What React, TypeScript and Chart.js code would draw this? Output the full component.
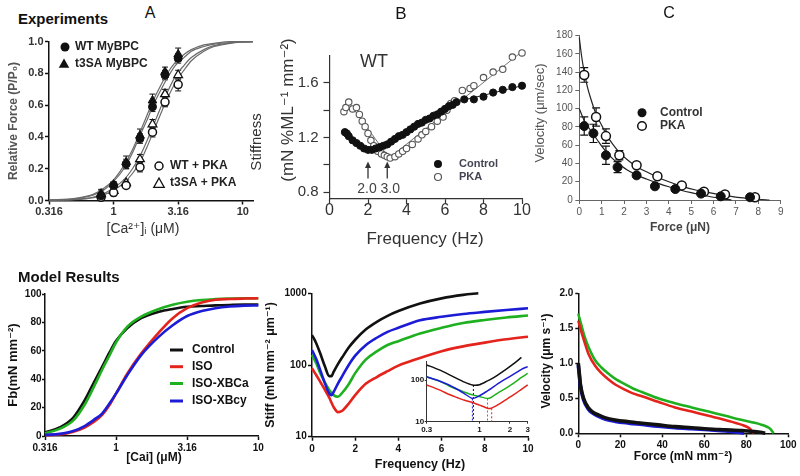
import React, { useEffect, useRef } from "react";
import { Chart, registerables } from "chart.js";

Chart.register(...registerables);
const FONT = "'Liberation Sans', Arial, 'DejaVu Sans', sans-serif";
Chart.defaults.font.family = FONT;

// ---------------- Panel A (experiments, force-pCa) ----------------
const aConc = [0.8, 1.0, 1.25, 1.6, 2.0, 2.5, 3.16];
const aWT = [0.03, 0.095, 0.23, 0.39, 0.59, 0.79, 0.895];
const aWTErr = [0.02, 0.02, 0.03, 0.03, 0.03, 0.03, 0.03];
const aT3SA = [0.04, 0.1, 0.24, 0.41, 0.63, 0.81, 0.92];
const aT3SAErr = [0.03, 0.02, 0.04, 0.04, 0.04, 0.03, 0.04];
const aWTPka = [0.02, 0.05, 0.095, 0.21, 0.43, 0.62, 0.73];
const aWTPkaErr = [0.02, 0.02, 0.02, 0.03, 0.03, 0.03, 0.04];
const aT3SAPka = [0.04, 0.06, 0.11, 0.26, 0.48, 0.67, 0.79];
const aT3SAPkaErr = [0.02, 0.02, 0.02, 0.03, 0.03, 0.03, 0.03];
const aFitConc = [0.316, 0.5, 0.7, 0.85, 1.0, 1.2, 1.4, 1.6, 1.8, 2.0, 2.3, 2.6, 3.0, 3.5, 4, 5, 6, 8, 10, 12];
const aFitWT = [0.002, 0.011, 0.035, 0.07, 0.12, 0.2, 0.3, 0.41, 0.5, 0.59, 0.69, 0.77, 0.85, 0.9, 0.94, 0.97, 0.985, 0.995, 1.0, 1.0];
const aFitT3SA = [0.003, 0.013, 0.04, 0.08, 0.13, 0.22, 0.32, 0.43, 0.53, 0.62, 0.72, 0.8, 0.87, 0.92, 0.95, 0.98, 0.99, 1.0, 1.0, 1.0];
const aFitWTPka = [0.001, 0.005, 0.018, 0.037, 0.065, 0.11, 0.17, 0.24, 0.33, 0.42, 0.54, 0.64, 0.74, 0.82, 0.88, 0.94, 0.97, 0.99, 0.997, 1.0];
const aFitT3SAPka = [0.002, 0.007, 0.022, 0.045, 0.08, 0.13, 0.2, 0.28, 0.37, 0.46, 0.58, 0.68, 0.78, 0.85, 0.9, 0.95, 0.975, 0.993, 0.998, 1.0];
const aXTicks = [0.316, 1, 3.16, 10];
const aXLabels = ["0.316", "1", "3.16", "10"];
const aYTicks = [0, 0.2, 0.4, 0.6, 0.8, 1.0];
const aYLabels = ["0.0", "0.2", "0.4", "0.6", "0.8", "1.0"];

// ---------------- Panel B (experiments, stiffness) ----------------
const bFreqCtrl = [0.8, 0.9, 1.0, 1.2, 1.4, 1.6, 1.8, 2.0, 2.2, 2.4, 2.6, 2.8, 3.0, 3.2, 3.4, 3.6, 3.8, 4.0, 4.2, 4.4, 4.6, 4.8, 5.0, 5.2, 5.4, 5.6, 5.8, 6.0, 6.2, 6.4, 6.6, 7.0, 7.5, 8.0, 8.5, 9.0, 9.5, 10.0];
const bCtrl = [1.24, 1.23, 1.21, 1.18, 1.16, 1.14, 1.12, 1.11, 1.11, 1.12, 1.13, 1.14, 1.15, 1.17, 1.19, 1.21, 1.22, 1.24, 1.26, 1.28, 1.30, 1.31, 1.33, 1.34, 1.36, 1.37, 1.39, 1.41, 1.43, 1.44, 1.46, 1.48, 1.48, 1.50, 1.53, 1.55, 1.57, 1.58];
const bFreqPka = [0.75, 0.85, 1.0, 1.2, 1.4, 1.55, 1.7, 1.85, 2.0, 2.15, 2.3, 2.5, 2.7, 2.85, 3.0, 3.15, 3.4, 3.6, 3.8, 4.0, 4.3, 4.6, 4.8, 5.0, 5.3, 5.6, 5.9, 6.1, 6.3, 6.5, 6.9, 7.3, 7.5, 8.0, 8.5, 9.0, 9.5, 10.0];
const bPka = [1.39, 1.42, 1.46, 1.41, 1.42, 1.37, 1.32, 1.28, 1.23, 1.18, 1.14, 1.10, 1.08, 1.07, 1.06, 1.05, 1.06, 1.08, 1.10, 1.12, 1.15, 1.19, 1.22, 1.245, 1.28, 1.32, 1.35, 1.40, 1.45, 1.47, 1.545, 1.56, 1.58, 1.64, 1.68, 1.70, 1.79, 1.82];
const bFitCtrlFreq = [0.8, 1.4, 2.1, 3.0, 4.0, 5.0, 6.0, 6.6, 8.0, 10.0];
const bFitCtrl = [1.24, 1.16, 1.105, 1.15, 1.24, 1.33, 1.41, 1.46, 1.51, 1.58];
const bFitPkaFreq = [1.0, 3.1, 10.0];
const bFitPka = [1.46, 1.05, 1.83];
const bArrowFreq = [2.0, 3.0];
const bArrowLabels = ["2.0", "3.0"];
const bXTicks = [0, 2, 4, 6, 8, 10];
const bXLabels = ["0", "2", "4", "6", "8", "10"];
const bYTicks = [0.8, 1.0, 1.2, 1.4, 1.6];
const bYLabels = ["0.8", "", "1.2", "", "1.6"];

// ---------------- Panel C (experiments, force-velocity) ----------------
const cForceCtrl = [0.22, 0.63, 1.19, 1.71, 2.56, 3.38, 4.29, 5.44, 6.32, 7.63];
const cVelCtrl = [81, 73, 49, 36, 27, 15, 12, 7, 4, 3];
const cErrCtrl = [10, 10, 10, 6, 2, 2, 2, 1, 1, 1];
const cForcePka = [0.22, 0.75, 1.19, 1.79, 2.56, 3.49, 4.58, 5.57, 6.51, 7.85];
const cVelPka = [137, 91, 70, 49, 38, 26, 16, 9, 6, 3];
const cErrPka = [8, 10, 8, 5, 2, 2, 2, 1, 1, 1];
const cFitForcePka = [0, 0.1, 0.2, 0.35, 0.5, 0.75, 1.0, 1.25, 1.5, 1.8, 2.2, 2.6, 3.0, 3.5, 4.0, 4.6, 5.2, 5.8, 6.5, 7.2, 8.0, 8.5];
const cFitPka = [178, 158, 143, 125, 112, 94, 82, 70, 61, 52, 43, 36, 31, 25, 20, 15, 11, 8, 5, 2.5, 0.8, 0];
const cFitForceCtrl = [0, 0.1, 0.2, 0.4, 0.6, 0.8, 1.0, 1.2, 1.5, 1.8, 2.2, 2.6, 3.0, 3.5, 4.0, 4.5, 5.0, 5.5, 6.0, 6.5, 6.8];
const cFitCtrl = [100, 94, 88, 80, 73, 66, 59, 53, 45, 39, 32, 27, 23, 18.5, 14.5, 11, 8, 5.5, 3, 1, 0];
const cXTicks = [0, 1, 2, 3, 4, 5, 6, 7, 8, 9];
const cXLabels = ["0", "1", "2", "3", "4", "5", "6", "7", "8", "9"];
const cYTicks = [0, 20, 40, 60, 80, 100, 120, 140, 160, 180];
const cYLabels = ["0", "20", "40", "60", "80", "100", "120", "140", "160", "180"];

// ---------------- Panel D (model, force-Ca) ----------------
const dConc = [0.316, 0.4, 0.5, 0.6, 0.7, 0.8, 0.9, 1.0, 1.2, 1.5, 2.0, 2.5, 3.16, 4, 5, 6.3, 8, 10];
const dControl = [2.5, 6, 13, 25, 38, 49, 59, 67, 76, 83, 87.5, 89.5, 91, 91.5, 92, 92.3, 92.5, 92.5];
const dISO = [0.5, 1, 3, 6, 10, 15, 22, 30, 44, 58, 73, 83, 90, 94, 96, 96.5, 96.8, 97];
const dXBCa = [2, 5, 11, 22, 35, 47, 57, 66, 77, 84, 89.5, 92.5, 94.6, 95.8, 96.4, 96.8, 97, 97];
const dXBcy = [0.8, 1.5, 3.5, 7, 11.5, 16, 23, 30, 43, 57, 70, 78, 84.5, 88, 90, 91.2, 91.8, 92];
const dXTicks = [0.316, 1, 3.16, 10];
const dXLabels = ["0.316", "1", "3.16", "10"];
const dYTicks = [0, 20, 40, 60, 80, 100];
const dYLabels = ["0", "20", "40", "60", "80", "100"];
const modelNames = ["Control", "ISO", "ISO-XBCa", "ISO-XBcy"];
const modelColors = ["#111111", "#e3231c", "#1fb01f", "#1c1cd6"];

// ---------------- Panel E (model, stiffness) ----------------
const eFreqCtrl = [0, 0.2, 0.4, 0.6, 0.8, 0.9, 1.0, 1.2, 1.4, 1.7, 2.0, 2.5, 3.0, 3.5, 4.0, 5.0, 6.0, 7.0, 7.7];
const eCtrl = [262, 200, 140, 95, 70, 70, 80, 103, 128, 175, 225, 315, 400, 485, 565, 720, 850, 950, 1000];
const eFreq = [0, 0.2, 0.4, 0.6, 0.8, 0.9, 1.0, 1.2, 1.4, 1.7, 2.0, 2.5, 3.0, 3.5, 4.0, 5.0, 6.0, 7.0, 8.0, 9.0, 10.0];
const eISO = [90, 72, 57, 45, 35, 30, 26, 22, 23, 29, 38, 55, 68, 82, 98, 125, 156, 182, 205, 228, 248];
const eXBCa = [138, 105, 75, 57, 45, 41, 38, 36, 41, 54, 77, 120, 155, 190, 215, 275, 330, 385, 425, 460, 490];
const eXBcy = [162, 120, 82, 55, 40, 38, 42, 55, 70, 100, 135, 190, 240, 290, 330, 420, 470, 515, 550, 585, 618];
const eXTicks = [0, 2, 4, 6, 8, 10];
const eXLabels = ["0", "2", "4", "6", "8", "10"];
const eYTicks = [10, 100, 1000];
const eYLabels = ["10", "100", "1000"];

// inset (log-log)
const iFreqCtrl = [0.3, 0.4, 0.5, 0.6, 0.7, 0.85, 1.0, 1.2, 1.3, 1.5, 1.8, 2.2, 2.6];
const iCtrl = [230, 175, 135, 108, 90, 76, 77, 95, 105, 130, 175, 250, 350];
const iFreq = [0.3, 0.4, 0.5, 0.6, 0.7, 0.85, 1.0, 1.2, 1.3, 1.5, 1.8, 2.2, 2.6, 3.0];
const iXBcy = [120, 95, 76, 60, 48, 36, 42, 55, 62, 80, 105, 140, 180, 210];
const iXBCa = [118, 95, 72, 60, 52, 44, 40, 36, 38, 48, 62, 85, 115, 145];
const iISO = [76, 58, 45, 38, 33, 29, 25, 21, 21, 25, 33, 45, 60, 76];
const iMinFreq = [0.87, 0.85, 1.2, 1.32];
const iMinVal = [76, 36, 36, 21];
const iMinColor = ["#111111", "#1c1cd6", "#1fb01f", "#e3231c"];
const iXTicks = [0.3, 1, 2, 3];
const iXLabels = ["0.3", "1", "2", "3"];
const iYTicks = [10, 100];
const iYLabels = ["10", "100"];

// ---------------- Panel F (model, force-velocity) ----------------
const fForceGreen = [0, 0.5, 1.75, 3, 4.9, 8.1, 11, 14.4, 18, 22.4, 26, 30.3, 38, 46, 54, 62, 70, 78, 84, 87.5, 90, 91.5, 93];
const fGreen = [1.71, 1.65, 1.515, 1.38, 1.23, 1.04, 0.94, 0.85, 0.77, 0.70, 0.64, 0.59, 0.50, 0.43, 0.37, 0.31, 0.25, 0.19, 0.15, 0.12, 0.09, 0.06, 0.0];
const fForceRed = [0, 0.5, 1.75, 3, 4.9, 8.1, 11, 14.4, 18, 22.4, 26, 30.3, 38, 46, 54, 62, 70, 78, 81, 82.5, 83.5];
const fRed = [1.61, 1.55, 1.42, 1.30, 1.13, 0.96, 0.86, 0.77, 0.69, 0.62, 0.57, 0.53, 0.45, 0.37, 0.31, 0.25, 0.19, 0.12, 0.08, 0.04, 0];
const fForceBlack = [0, 0.5, 1, 2.5, 4.9, 7, 9.7, 13, 17.6, 24, 30.3, 38, 46, 54, 62, 70, 78, 84, 87.5, 89];
const fBlack = [1.0, 0.85, 0.70, 0.50, 0.36, 0.30, 0.26, 0.22, 0.19, 0.165, 0.144, 0.12, 0.095, 0.08, 0.062, 0.05, 0.038, 0.025, 0.01, 0];
const fForceBlue = [0, 0.5, 1, 2.5, 4.9, 7, 9.7, 13, 17.6, 24, 30.3, 38, 46, 54, 62, 70, 75, 79];
const fBlue = [0.97, 0.82, 0.68, 0.48, 0.34, 0.285, 0.24, 0.20, 0.17, 0.145, 0.125, 0.10, 0.08, 0.065, 0.05, 0.035, 0.02, 0];
const fXTicks = [0, 20, 40, 60, 80, 100];
const fXLabels = ["0", "20", "40", "60", "80", "100"];
const fYTicks = [0, 0.5, 1.0, 1.5, 2.0];
const fYLabels = ["0.0", "0.5", "1.0", "1.5", "2.0"];

// ---------------- helpers ----------------
type Geo = { x: number; y: number; w: number; h: number; l: number; t: number; r: number; b: number };
type Mark = { k: "dot" | "ring" | "tri" | "triOpen" | "seg"; x: number; y: number; r: number; c: string; w?: number };
type Txt = { s: string; x: number; y: number; f: string; c: string; a?: CanvasTextAlign; rot?: number };

const pts = (xs: number[], ys: number[]) => xs.map((x, i) => ({ x, y: ys[i] }));

function mkScale(o: {
  type: string; min: number; max: number; vals: number[]; labels: string[];
  dir: "x" | "y"; size: number; tickLen: number; pad: number;
  fsize: number; bold?: boolean; color: string; line: string; lineW: number;
}) {
  return {
    type: o.type,
    min: o.min,
    max: o.max,
    bounds: "data",
    position: o.dir === "x" ? "bottom" : "left",
    afterBuildTicks: (s: any) => {
      s.ticks = o.vals.map((v) => ({ value: v }));
    },
    afterFit: (s: any) => {
      if (o.dir === "x") s.height = o.size;
      else s.width = o.size;
    },
    ticks: {
      autoSkip: false,
      maxRotation: 0,
      minRotation: 0,
      padding: o.pad,
      color: o.color,
      font: { size: o.fsize, weight: o.bold ? "bold" : "normal", family: FONT },
      callback: (_v: any, i: number) => (o.labels[i] !== undefined ? o.labels[i] : ""),
    },
    grid: {
      display: true,
      drawOnChartArea: false,
      drawTicks: true,
      tickLength: o.tickLen,
      tickColor: o.line,
      tickWidth: o.lineW,
    },
    border: { display: true, color: o.line, width: o.lineW },
    title: { display: false },
  };
}

function baseOptions(g: Geo, scales: any) {
  return {
    responsive: false,
    animation: false,
    devicePixelRatio: 1,
    events: [],
    layout: { padding: { left: 0, top: g.t - g.y, right: g.x + g.w - g.r, bottom: 0 } },
    plugins: { legend: { display: false }, tooltip: { enabled: false }, title: { display: false } },
    scales,
  };
}

function curve(xs: number[], ys: number[], color: string, width: number, extra: any = {}) {
  return {
    data: pts(xs, ys),
    showLine: true,
    pointRadius: 0,
    borderColor: color,
    backgroundColor: color,
    borderWidth: width,
    cubicInterpolationMode: "monotone",
    clip: false,
    ...extra,
  };
}

function markers(xs: number[], ys: number[], style: string, r: number, fill: string, stroke: string, bw: number) {
  return {
    data: pts(xs, ys),
    showLine: false,
    pointStyle: style,
    pointRadius: r,
    pointBackgroundColor: fill,
    pointBorderColor: stroke,
    pointBorderWidth: bw,
    clip: false,
  };
}

function decor(ox: number, oy: number, marks: Mark[], texts: Txt[]) {
  return {
    id: "decor",
    afterDraw(chart: any) {
      const ctx: CanvasRenderingContext2D = chart.ctx;
      ctx.save();
      for (const m of marks) {
        const x = m.x - ox;
        const y = m.y - oy;
        ctx.beginPath();
        ctx.lineWidth = m.w ?? 1.5;
        ctx.strokeStyle = m.c;
        ctx.fillStyle = m.c;
        if (m.k === "dot" || m.k === "ring") {
          ctx.arc(x, y, m.r, 0, Math.PI * 2);
          if (m.k === "dot") ctx.fill();
          else {
            ctx.fillStyle = "#fff";
            ctx.fill();
            ctx.stroke();
          }
        } else if (m.k === "tri" || m.k === "triOpen") {
          ctx.moveTo(x, y - m.r);
          ctx.lineTo(x + m.r * 0.95, y + m.r * 0.7);
          ctx.lineTo(x - m.r * 0.95, y + m.r * 0.7);
          ctx.closePath();
          if (m.k === "tri") ctx.fill();
          else {
            ctx.fillStyle = "#fff";
            ctx.fill();
            ctx.stroke();
          }
        } else {
          ctx.lineCap = "butt";
          ctx.moveTo(x - m.r, y);
          ctx.lineTo(x + m.r, y);
          ctx.stroke();
        }
      }
      for (const t of texts) {
        ctx.save();
        ctx.translate(t.x - ox, t.y - oy);
        if (t.rot) ctx.rotate((t.rot * Math.PI) / 180);
        ctx.font = t.f;
        ctx.fillStyle = t.c;
        ctx.textAlign = t.a ?? "center";
        ctx.textBaseline = "middle";
        ctx.fillText(t.s, 0, 0);
        ctx.restore();
      }
      ctx.restore();
    },
  };
}

function errorBars(sets: { ds: number; err: number[]; color: string; cap: number; width: number }[]) {
  return {
    id: "errbars",
    beforeDatasetsDraw(chart: any) {
      const ctx: CanvasRenderingContext2D = chart.ctx;
      const ys = chart.scales.y;
      ctx.save();
      for (const s of sets) {
        const meta = chart.getDatasetMeta(s.ds);
        const data = chart.data.datasets[s.ds].data as any[];
        ctx.strokeStyle = s.color;
        ctx.lineWidth = s.width;
        meta.data.forEach((el: any, i: number) => {
          const v = data[i].y;
          const e = s.err[i];
          const top = ys.getPixelForValue(v + e);
          const bot = ys.getPixelForValue(v - e);
          ctx.beginPath();
          ctx.moveTo(el.x, top);
          ctx.lineTo(el.x, bot);
          ctx.moveTo(el.x - s.cap / 2, top);
          ctx.lineTo(el.x + s.cap / 2, top);
          ctx.moveTo(el.x - s.cap / 2, bot);
          ctx.lineTo(el.x + s.cap / 2, bot);
          ctx.stroke();
        });
      }
      ctx.restore();
    },
  };
}

function arrows(xs: number[], labels: string[], tail: number, head: number, labelY: number, labelDx: number[]) {
  return {
    id: "arrows",
    afterDatasetsDraw(chart: any) {
      const ctx: CanvasRenderingContext2D = chart.ctx;
      const sx = chart.scales.x;
      const sy = chart.scales.y;
      ctx.save();
      xs.forEach((v, i) => {
        const px = sx.getPixelForValue(v);
        const y0 = sy.getPixelForValue(tail);
        const y1 = sy.getPixelForValue(head);
        ctx.strokeStyle = "#333";
        ctx.fillStyle = "#333";
        ctx.lineWidth = 1.3;
        ctx.beginPath();
        ctx.moveTo(px, y0);
        ctx.lineTo(px, y1 + 4);
        ctx.stroke();
        ctx.beginPath();
        ctx.moveTo(px, y1);
        ctx.lineTo(px - 3, y1 + 6.5);
        ctx.lineTo(px + 3, y1 + 6.5);
        ctx.closePath();
        ctx.fill();
        ctx.font = `14px ${FONT}`;
        ctx.fillStyle = "#444";
        ctx.textAlign = "center";
        ctx.textBaseline = "middle";
        ctx.fillText(labels[i], px + labelDx[i], sy.getPixelForValue(labelY));
      });
      ctx.restore();
    },
  };
}

// ---------------- chart configs ----------------
const gA: Geo = { x: 0, y: 30, w: 270, h: 215, l: 49, t: 41.7, r: 253, b: 200.5 };
function configA() {
  const g = gA;
  return {
    type: "scatter",
    data: {
      datasets: [
        markers(aConc, aWT, "circle", 4, "#111", "#111", 1),
        markers(aConc, aT3SA, "triangle", 5, "#111", "#111", 1),
        markers(aConc, aWTPka, "circle", 4, "#fff", "#111", 1.5),
        markers(aConc, aT3SAPka, "triangle", 5, "#fff", "#111", 1.3),
        curve(aFitConc, aFitWT, "#6a6a6a", 1.2),
        curve(aFitConc, aFitT3SA, "#6a6a6a", 1.2),
        curve(aFitConc, aFitWTPka, "#6a6a6a", 1.2),
        curve(aFitConc, aFitT3SAPka, "#6a6a6a", 1.2),
      ],
    },
    options: baseOptions(g, {
      x: mkScale({ type: "logarithmic", min: 0.316, max: 12, vals: aXTicks, labels: aXLabels, dir: "x", size: g.y + g.h - g.b, tickLen: 4, pad: 1, fsize: 11, bold: true, color: "#333", line: "#111", lineW: 1.5 }),
      y: mkScale({ type: "linear", min: 0, max: 1, vals: aYTicks, labels: aYLabels, dir: "y", size: g.l - g.x, tickLen: 4, pad: 1.5, fsize: 11, bold: true, color: "#333", line: "#111", lineW: 1.5 }),
    }),
    plugins: [
      errorBars([
        { ds: 0, err: aWTErr, color: "#111", cap: 6, width: 1 },
        { ds: 1, err: aT3SAErr, color: "#111", cap: 6, width: 1 },
        { ds: 2, err: aWTPkaErr, color: "#111", cap: 6, width: 1 },
        { ds: 3, err: aT3SAPkaErr, color: "#111", cap: 6, width: 1 },
      ]),
      decor(g.x, g.y,
        [
          { k: "dot", x: 65, y: 47, r: 4.5, c: "#111" },
          { k: "tri", x: 64, y: 64, r: 5.5, c: "#111" },
          { k: "ring", x: 159, y: 166, r: 4, c: "#111", w: 1.5 },
          { k: "triOpen", x: 159, y: 183.5, r: 5.5, c: "#111", w: 1.3 },
        ],
        [
          { s: "WT MyBPC", x: 75, y: 47, f: `bold 12px ${FONT}`, c: "#222", a: "left" },
          { s: "t3SA MyBPC", x: 75, y: 63.5, f: `bold 12px ${FONT}`, c: "#222", a: "left" },
          { s: "WT + PKA", x: 170, y: 166, f: `bold 12px ${FONT}`, c: "#222", a: "left" },
          { s: "t3SA + PKA", x: 170, y: 183, f: `bold 12px ${FONT}`, c: "#222", a: "left" },
          { s: "Relative Force (P/P\u2080)", x: 13.5, y: 121, f: `bold 12px ${FONT}`, c: "#555", rot: -90 },
          { s: "[Ca\u00B2\u207A]\u1D62 (\u03BCM)", x: 143, y: 229, f: `14px ${FONT}`, c: "#333" },
        ]),
    ],
  };
}

const gB: Geo = { x: 240, y: 20, w: 305, h: 232, l: 329.5, t: 55.7, r: 522, b: 199 };
function configB() {
  const g = gB;
  return {
    type: "scatter",
    data: {
      datasets: [
        markers(bFreqCtrl, bCtrl, "circle", 3.6, "#111", "#111", 1),
        markers(bFreqPka, bPka, "circle", 3.2, "#fff", "#555", 1.1),
        curve(bFitCtrlFreq, bFitCtrl, "#222", 1, { cubicInterpolationMode: "default", tension: 0.35 }),
        curve(bFitPkaFreq, bFitPka, "#777", 1, { cubicInterpolationMode: "default", tension: 0 }),
      ],
    },
    options: baseOptions(g, {
      x: mkScale({ type: "linear", min: 0, max: 10, vals: bXTicks, labels: bXLabels, dir: "x", size: g.y + g.h - g.b, tickLen: 5, pad: -3, fsize: 16, color: "#333", line: "#333", lineW: 1.2 }),
      y: mkScale({ type: "linear", min: 0.75, max: 1.8, vals: bYTicks, labels: bYLabels, dir: "y", size: g.l - g.x, tickLen: 6, pad: 5, fsize: 15, color: "#333", line: "#333", lineW: 1.2 }),
    }),
    plugins: [
      arrows(bArrowFreq, bArrowLabels, 0.9, 1.025, 0.82, [-1, 3]),
      decor(g.x, g.y,
        [
          { k: "dot", x: 438, y: 164, r: 4, c: "#111" },
          { k: "ring", x: 438, y: 177, r: 3.5, c: "#555", w: 1.2 },
        ],
        [
          { s: "WT", x: 374, y: 62, f: `18px ${FONT}`, c: "#333" },
          { s: "Control", x: 459, y: 164, f: `bold 11px ${FONT}`, c: "#445", a: "left" },
          { s: "PKA", x: 459, y: 177, f: `bold 11px ${FONT}`, c: "#445", a: "left" },
          { s: "Stiffness", x: 257, y: 142, f: `15px ${FONT}`, c: "#333", rot: -90 },
          { s: "(mN %ML\u207B\u00B9 mm\u207B\u00B2)", x: 288, y: 110, f: `17px ${FONT}`, c: "#333", rot: -90 },
          { s: "Frequency (Hz)", x: 425, y: 239, f: `17px ${FONT}`, c: "#333" },
        ]),
    ],
  };
}

const gC: Geo = { x: 530, y: 20, w: 270, h: 225, l: 579.3, t: 35.7, r: 780.7, b: 200 };
function configC() {
  const g = gC;
  return {
    type: "scatter",
    data: {
      datasets: [
        markers(cForceCtrl, cVelCtrl, "circle", 4.5, "#111", "#111", 1),
        markers(cForcePka, cVelPka, "circle", 4.5, "#fff", "#111", 1.5),
        curve(cFitForceCtrl, cFitCtrl, "#222", 1.2),
        curve(cFitForcePka, cFitPka, "#222", 1.2),
      ],
    },
    options: baseOptions(g, {
      x: mkScale({ type: "linear", min: 0, max: 9, vals: cXTicks, labels: cXLabels, dir: "x", size: g.y + g.h - g.b, tickLen: 4, pad: 2, fsize: 10, color: "#555", line: "#666", lineW: 1 }),
      y: mkScale({ type: "linear", min: 0, max: 180, vals: cYTicks, labels: cYLabels, dir: "y", size: g.l - g.x, tickLen: 4, pad: 2.5, fsize: 10, color: "#555", line: "#666", lineW: 1 }),
    }),
    plugins: [
      errorBars([
        { ds: 0, err: cErrCtrl, color: "#111", cap: 8, width: 1.2 },
        { ds: 1, err: cErrPka, color: "#111", cap: 8, width: 1.2 },
      ]),
      decor(g.x, g.y,
        [
          { k: "dot", x: 642, y: 112.7, r: 4.5, c: "#111" },
          { k: "ring", x: 642, y: 126, r: 4.3, c: "#111", w: 1.5 },
        ],
        [
          { s: "Control", x: 660, y: 112.7, f: `bold 12px ${FONT}`, c: "#333", a: "left" },
          { s: "PKA", x: 660, y: 126, f: `bold 12px ${FONT}`, c: "#333", a: "left" },
          { s: "Velocity (\u03BCm/sec)", x: 540, y: 113, f: `13px ${FONT}`, c: "#555", rot: -90 },
          { s: "Force (\u03BCN)", x: 680, y: 228, f: `bold 12px ${FONT}`, c: "#444" },
        ]),
    ],
  };
}

const gD: Geo = { x: 0, y: 280, w: 275, h: 196, l: 45, t: 294, r: 258.3, b: 436 };
function configD() {
  const g = gD;
  return {
    type: "scatter",
    data: {
      datasets: [
        curve(dConc, dXBcy, modelColors[3], 2.6),
        curve(dConc, dISO, modelColors[1], 2.6),
        curve(dConc, dXBCa, modelColors[2], 2.6),
        curve(dConc, dControl, modelColors[0], 2.6),
      ],
    },
    options: baseOptions(g, {
      x: mkScale({ type: "logarithmic", min: 0.316, max: 10, vals: dXTicks, labels: dXLabels, dir: "x", size: g.y + g.h - g.b, tickLen: 4, pad: 2, fsize: 10, bold: true, color: "#111", line: "#111", lineW: 1.5 }),
      y: mkScale({ type: "linear", min: 0, max: 100, vals: dYTicks, labels: dYLabels, dir: "y", size: g.l - g.x, tickLen: 3, pad: 0.5, fsize: 10, bold: true, color: "#111", line: "#111", lineW: 1.5 }),
    }),
    plugins: [
      decor(g.x, g.y,
        [
          { k: "seg", x: 176.5, y: 350, r: 6.5, c: modelColors[0], w: 3 },
          { k: "seg", x: 176.5, y: 366.7, r: 6.5, c: modelColors[1], w: 3 },
          { k: "seg", x: 176.5, y: 383.5, r: 6.5, c: modelColors[2], w: 3 },
          { k: "seg", x: 176.5, y: 401, r: 6.5, c: modelColors[3], w: 3 },
        ],
        [
          { s: modelNames[0], x: 192, y: 350, f: `bold 12px ${FONT}`, c: "#111", a: "left" },
          { s: modelNames[1], x: 192, y: 366.7, f: `bold 12px ${FONT}`, c: "#111", a: "left" },
          { s: modelNames[2], x: 192, y: 383.5, f: `bold 12px ${FONT}`, c: "#111", a: "left" },
          { s: modelNames[3], x: 192, y: 401, f: `bold 12px ${FONT}`, c: "#111", a: "left" },
          { s: "Fb(mN mm\u207B\u00B2)", x: 13, y: 365, f: `bold 13px ${FONT}`, c: "#111", rot: -90 },
          { s: "[Cai] (\u03BCM)", x: 154, y: 458, f: `bold 12px ${FONT}`, c: "#111" },
        ]),
    ],
  };
}

const gE: Geo = { x: 262, y: 280, w: 283, h: 196, l: 312, t: 293.3, r: 528, b: 436.7 };
function configE() {
  const g = gE;
  return {
    type: "scatter",
    data: {
      datasets: [
        curve(eFreqCtrl, eCtrl, modelColors[0], 2.6),
        curve(eFreq, eXBcy, modelColors[3], 2.6),
        curve(eFreq, eXBCa, modelColors[2], 2.6),
        curve(eFreq, eISO, modelColors[1], 2.6),
      ],
    },
    options: baseOptions(g, {
      x: mkScale({ type: "linear", min: 0, max: 10, vals: eXTicks, labels: eXLabels, dir: "x", size: g.y + g.h - g.b, tickLen: 4, pad: 3, fsize: 10, bold: true, color: "#111", line: "#111", lineW: 1.5 }),
      y: mkScale({ type: "logarithmic", min: 10, max: 1000, vals: eYTicks, labels: eYLabels, dir: "y", size: g.l - g.x, tickLen: 4, pad: 1.3, fsize: 10, bold: true, color: "#111", line: "#111", lineW: 1.5 }),
    }),
    plugins: [
      decor(g.x, g.y, [], [
        { s: "Stiff (mN mm\u207B\u00B2 \u03BCm\u207B\u00B9)", x: 271, y: 365, f: `bold 12.5px ${FONT}`, c: "#111", rot: -90 },
        { s: "Frequency (Hz)", x: 420, y: 465, f: `bold 12.5px ${FONT}`, c: "#111" },
      ]),
    ],
  };
}

const gI: Geo = { x: 392, y: 345, w: 143, h: 95, l: 426.7, t: 361.7, r: 527.7, b: 421.7 };
function configI() {
  const g = gI;
  const dotted = iMinFreq.map((f, i) => ({
    data: [{ x: f, y: iMinVal[i] }, { x: f, y: 10 }],
    showLine: true,
    pointRadius: 0,
    borderColor: iMinColor[i],
    borderWidth: 1,
    borderDash: [2, 2],
    clip: false,
  }));
  return {
    type: "scatter",
    data: {
      datasets: [
        curve(iFreqCtrl, iCtrl, modelColors[0], 1.5, { cubicInterpolationMode: "default", tension: 0.2 }),
        curve(iFreq, iXBcy, modelColors[3], 1.5, { cubicInterpolationMode: "default", tension: 0.2 }),
        curve(iFreq, iXBCa, modelColors[2], 1.5, { cubicInterpolationMode: "default", tension: 0.2 }),
        curve(iFreq, iISO, modelColors[1], 1.5, { cubicInterpolationMode: "default", tension: 0.2 }),
        ...dotted,
      ],
    },
    options: baseOptions(g, {
      x: mkScale({ type: "logarithmic", min: 0.3, max: 3, vals: iXTicks, labels: iXLabels, dir: "x", size: g.y + g.h - g.b, tickLen: 2, pad: 1.5, fsize: 8, bold: true, color: "#111", line: "#333", lineW: 1 }),
      y: mkScale({ type: "logarithmic", min: 10, max: 275, vals: iYTicks, labels: iYLabels, dir: "y", size: g.l - g.x, tickLen: 2, pad: 0.5, fsize: 8, bold: true, color: "#111", line: "#333", lineW: 1 }),
    }),
    plugins: [],
  };
}

const gF: Geo = { x: 530, y: 280, w: 270, h: 196, l: 578.3, t: 293.3, r: 788.3, b: 433.3 };
function configF() {
  const g = gF;
  return {
    type: "scatter",
    data: {
      datasets: [
        curve(fForceBlack, fBlack, modelColors[0], 3.6),
        curve(fForceBlue, fBlue, modelColors[3], 3.6),
        curve(fForceRed, fRed, modelColors[1], 2.6),
        curve(fForceGreen, fGreen, modelColors[2], 2.6),
      ],
    },
    options: baseOptions(g, {
      x: mkScale({ type: "linear", min: 0, max: 100, vals: fXTicks, labels: fXLabels, dir: "x", size: g.y + g.h - g.b, tickLen: 4, pad: 2, fsize: 10, bold: true, color: "#111", line: "#111", lineW: 1.5 }),
      y: mkScale({ type: "linear", min: 0, max: 2, vals: fYTicks, labels: fYLabels, dir: "y", size: g.l - g.x, tickLen: 3, pad: 2, fsize: 10, bold: true, color: "#111", line: "#111", lineW: 1.5 }),
    }),
    plugins: [
      decor(g.x, g.y, [], [
        { s: "Velocity (\u03BCm s\u207B\u00B9)", x: 547, y: 361, f: `bold 12px ${FONT}`, c: "#111", rot: -90 },
        { s: "Force (mN mm\u207B\u00B2)", x: 683, y: 457, f: `bold 12px ${FONT}`, c: "#111" },
      ]),
    ],
  };
}

// ---------------- components ----------------
function ChartCanvas({ g, make }: { g: Geo; make: () => any }) {
  const ref = useRef<HTMLCanvasElement>(null);
  useEffect(() => {
    const chart = new Chart(ref.current as HTMLCanvasElement, make());
    return () => chart.destroy();
  }, []);
  return (
    <canvas
      ref={ref}
      width={g.w}
      height={g.h}
      style={{ position: "absolute", left: g.x, top: g.y, width: g.w, height: g.h }}
    />
  );
}

function Label({ text, x, y, size, bold, align }: { text: string; x: number; y: number; size: number; bold?: boolean; align?: "left" | "center" }) {
  return (
    <div
      style={{
        position: "absolute",
        left: x,
        top: y,
        transform: align === "left" ? "translateY(-50%)" : "translate(-50%, -50%)",
        fontFamily: FONT,
        fontSize: size,
        fontWeight: bold ? 700 : 400,
        lineHeight: 1,
        color: "#111",
        whiteSpace: "nowrap",
      }}
    >
      {text}
    </div>
  );
}

export default function App() {
  return (
    <div style={{ position: "absolute", left: 0, top: 0, width: 800, height: 476, background: "#fff", overflow: "hidden" }}>
      <ChartCanvas g={gA} make={configA} />
      <ChartCanvas g={gB} make={configB} />
      <ChartCanvas g={gC} make={configC} />
      <ChartCanvas g={gD} make={configD} />
      <ChartCanvas g={gE} make={configE} />
      <ChartCanvas g={gF} make={configF} />
      <ChartCanvas g={gI} make={configI} />
      <Label text="Experiments" x={18} y={18} size={15} bold align="left" />
      <Label text="A" x={150} y={13} size={16} />
      <Label text="B" x={401} y={13} size={17} />
      <Label text="C" x={669} y={13} size={16} />
      <Label text="Model Results" x={18} y={276} size={15} bold align="left" />
    </div>
  );
}
